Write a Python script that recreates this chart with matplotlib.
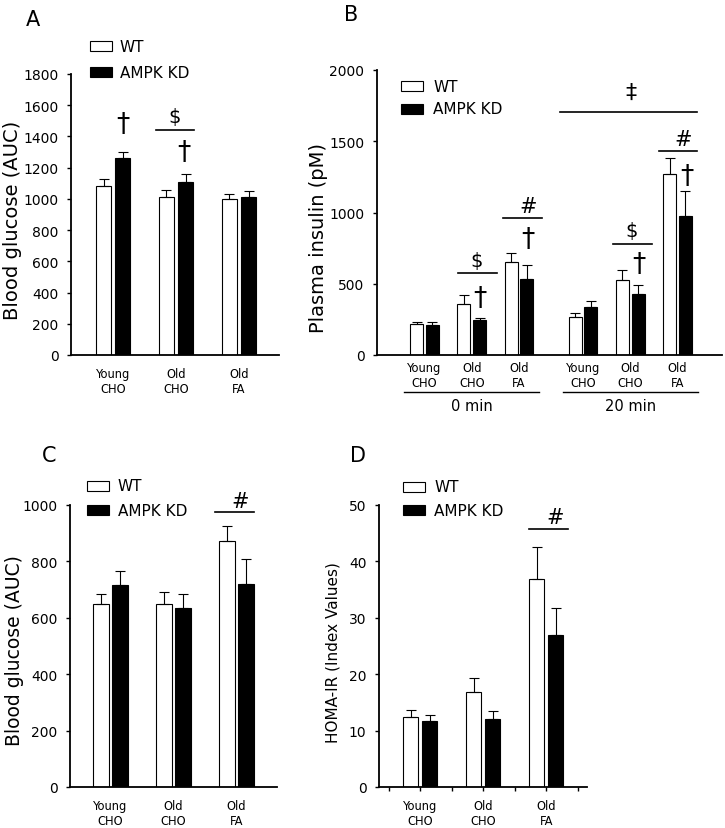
import matplotlib
matplotlib.use("Agg")
import matplotlib.pyplot as plt
from matplotlib.patches import Rectangle
from matplotlib.lines import Line2D

W, H = 725, 829

# values
groups = ["Young\nCHO", "Old\nCHO", "Old\nFA"]

a_wt = [1085, 1010, 1000]
a_wt_err = [43, 50, 34]
a_kd = [1262, 1106, 1012]
a_kd_err = [37, 56, 41]

b_labels = groups + groups
b_wt = [215, 356, 656, 265, 529, 1269]
b_wt_err = [19, 68, 63, 28, 71, 115]
b_kd = [211, 244, 532, 337, 429, 977]
b_kd_err = [21, 18, 100, 45, 63, 171]

c_wt = [648, 648, 872]
c_wt_err = [36, 42, 55]
c_kd = [718, 633, 721]
c_kd_err = [47, 53, 87]

d_wt = [12.5, 16.9, 36.9]
d_wt_err = [1.2, 2.5, 5.6]
d_kd = [11.7, 12.1, 26.9]
d_kd_err = [1.1, 1.3, 4.8]

plt.rcParams["font.family"] = ["DejaVu Sans"]


def fx(px):
    return px / W


def fy(py):
    return 1 - py / H


def axes_box(left, top, right, bottom):
    return [fx(left), fy(bottom), (right - left) / W, (bottom - top) / H]


def style_axes(ax):
    for s in ["top", "right"]:
        ax.spines[s].set_visible(False)
    for s in ["left", "bottom"]:
        ax.spines[s].set_linewidth(1.3)
    ax.tick_params(axis="y", direction="out", length=3, width=1, pad=6, labelsize=10)
    ax.tick_params(axis="x", length=0, labelsize=8.3)


def draw_bars(ax, pos, wt, wt_err, kd, kd_err, width, off):
    n = len(pos)
    xw = [p - off for p in pos]
    xk = [p + off for p in pos]
    ax.bar(xw, wt, width, color="white", edgecolor="black", linewidth=0.8, zorder=2)
    ax.bar(xk, kd, width, color="black", edgecolor="black", linewidth=0.8, zorder=2)
    ax.errorbar(xw, wt, yerr=[[0] * n, wt_err], fmt="none", ecolor="black",
                elinewidth=0.8, capsize=3.5, capthick=0.8, zorder=3)
    ax.errorbar(xk, kd, yerr=[[0] * n, kd_err], fmt="none", ecolor="black",
                elinewidth=0.8, capsize=3.5, capthick=0.8, zorder=3)


def mark(ax, x, y, s, size, weight="normal"):
    ax.text(x, y, s, fontsize=size, ha="center", va="center", clip_on=False,
            fontweight=weight)


def dagger(ax, x, y):
    mark(ax, x, y, "\u2020", 19)


def sig_line(ax, x0, x1, y):
    ax.plot([x0, x1], [y, y], color="black", lw=1.2, clip_on=False)


def legend(fig, x, y_wt, y_kd, tx):
    for y, fc, lab in [(y_wt, "white", "WT"), (y_kd, "black", "AMPK KD")]:
        fig.add_artist(Rectangle((fx(x), fy(y + 5)), 22 / W, 10 / H, facecolor=fc,
                                 edgecolor="black", lw=0.8, transform=fig.transFigure))
        fig.text(fx(tx), fy(y), lab, fontsize=11, va="center", ha="left")


fig = plt.figure(figsize=(W / 100, H / 100), dpi=100)

# ---- A
axA = fig.add_axes(axes_box(71, 75, 279, 356))
style_axes(axA)
pos3 = [0, 1, 2]
draw_bars(axA, pos3, a_wt, a_wt_err, a_kd, a_kd_err, 0.24, 0.151)
axA.set_ylim(0, 1800)
axA.set_yticks(range(0, 1801, 200))
axA.set_xlim(-0.667, 2.635)
axA.set_xticks(pos3, groups)
axA.tick_params(axis="x", pad=9)
dagger(axA, 0.151, 1480)
sig_line(axA, 0.683, 1.286, 1444)
mark(axA, 0.984, 1530, "$", 14)
dagger(axA, 1.127, 1300)
legend(fig, 90, 47, 73, 120)
fig.text(fx(12.5), fy(220), "Blood glucose (AUC)", rotation=90, fontsize=14,
         ha="center", va="center")
fig.text(fx(33), fy(20), "A", fontsize=15, ha="center", va="center")

# ---- B
axB = fig.add_axes(axes_box(377, 71, 722, 356))
style_axes(axB)
posB = [0, 1, 2, 3.35, 4.35, 5.35]
draw_bars(axB, posB, b_wt, b_wt_err, b_kd, b_kd_err, 0.275, 0.165)
axB.set_ylim(0, 2000)
axB.set_yticks(range(0, 2001, 500))
axB.set_xlim(-1.004, 6.29)
axB.set_xticks(posB, b_labels)
axB.tick_params(axis="x", pad=4)
sig_line(axB, 0.715, 1.526, 578)
mark(axB, 1.10, 660, "$", 14)
dagger(axB, 1.17, 403)
sig_line(axB, 1.666, 2.478, 960)
mark(axB, 2.195, 1047, "#", 15)
dagger(axB, 2.195, 813)
sig_line(axB, 3.99, 4.80, 782)
mark(axB, 4.38, 871, "$", 14)
dagger(axB, 4.54, 637)
sig_line(axB, 4.958, 5.768, 1433)
mark(axB, 5.47, 1515, "#", 15)
dagger(axB, 5.54, 1258)
sig_line(axB, 2.865, 5.768, 1707)
mark(axB, 4.366, 1843, "\u2021", 16)
# time brackets below the group labels
for (p0, p1), lab in [((posB[0], posB[2]), "0 min"), ((posB[3], posB[5]), "20 min")]:
    fig.add_artist(Line2D([fx(424.5 + (p0 - 0.43) * 47.3), fx(424.5 + (p1 + 0.43) * 47.3)],
                          [fy(393), fy(393)], color="black", lw=1.0,
                          transform=fig.transFigure))
    fig.text(fx(424.5 + (p0 + p1) / 2 * 47.3), fy(407), lab, fontsize=10.5,
             ha="center", va="center")
legend(fig, 401, 87, 110, 433)
fig.text(fx(318), fy(238), "Plasma insulin (pM)", rotation=90, fontsize=14,
         ha="center", va="center")
fig.text(fx(351), fy(15), "B", fontsize=15, ha="center", va="center")

# ---- C
axC = fig.add_axes(axes_box(70, 506, 277, 788))
style_axes(axC)
draw_bars(axC, pos3, c_wt, c_wt_err, c_kd, c_kd_err, 0.25, 0.15)
axC.set_ylim(0, 1000)
axC.set_yticks(range(0, 1001, 200))
axC.set_xlim(-0.643, 2.643)
axC.set_xticks(pos3, groups)
axC.tick_params(axis="x", pad=9)
sig_line(axC, 1.659, 2.278, 976)
mark(axC, 2.056, 1015, "#", 15)
legend(fig, 87, 487, 511, 118)
fig.text(fx(15), fy(651), "Blood glucose (AUC)", rotation=90, fontsize=13.5,
         ha="center", va="center")
fig.text(fx(49), fy(456), "C", fontsize=15, ha="center", va="center")

# ---- D
axD = fig.add_axes(axes_box(379, 506, 587, 788))
style_axes(axD)
draw_bars(axD, pos3, d_wt, d_wt_err, d_kd, d_kd_err, 0.24, 0.15)
axD.set_ylim(0, 50)
axD.set_yticks(range(0, 51, 10))
axD.set_xlim(-0.656, 2.646)
axD.set_xticks(pos3, groups)
axD.set_xticks([-0.5, 0.5, 1.5, 2.5], minor=True)
axD.tick_params(axis="x", which="both", direction="out", length=3, width=1, pad=6)
sig_line(axD, 1.73, 2.34, 45.7)
mark(axD, 2.138, 47.8, "#", 15)
legend(fig, 403, 488, 511, 434)
fig.text(fx(333), fy(653), "HOMA-IR (Index Values)", rotation=90, fontsize=11,
         ha="center", va="center")
fig.text(fx(358), fy(456), "D", fontsize=15, ha="center", va="center")

fig.savefig("out.png", dpi=100)
